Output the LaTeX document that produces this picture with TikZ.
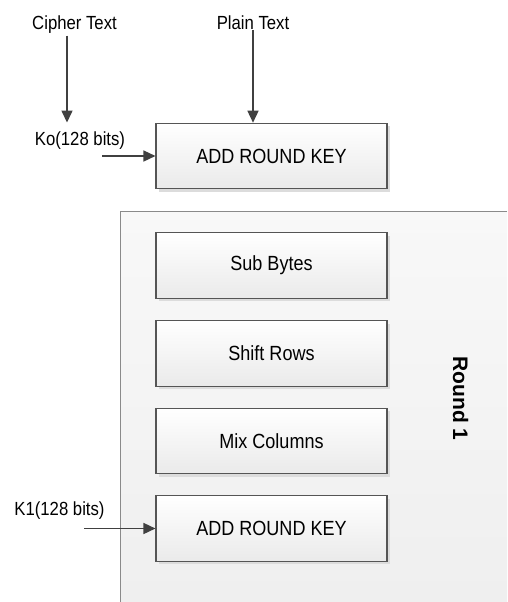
\documentclass[tikz,border=0pt]{standalone}
\usepackage{fontspec}
\setmainfont{Liberation Sans}[FakeStretch=0.88]
\newfontfamily\roundfont{Liberation Sans}
\usetikzlibrary{arrows.meta}
\definecolor{edgegray}{HTML}{555555}
\definecolor{arrowgray}{HTML}{404040}
\definecolor{framegray}{HTML}{8A8A8A}
\definecolor{shadowgray}{HTML}{DCDCDC}
\definecolor{roundtop}{HTML}{F8F8F8}
\definecolor{roundbot}{HTML}{EFEFEF}
\definecolor{boxbot}{HTML}{EAEAEA}
\tikzset{
  stagebox/.style={draw=edgegray, line width=1.1pt,
    minimum width=231pt, minimum height=65.5pt, inner sep=0pt,
    top color=white, bottom color=boxbot,
    preaction={fill=shadowgray, transform canvas={xshift=3pt,yshift=-3pt}},
    font=\fontsize{20.5}{24}\selectfont},
  labeltext/.style={inner sep=0pt, anchor=base, font=\fontsize{19}{22}\selectfont},
  flow/.style={draw=arrowgray, line width=1.5pt,
    -{Triangle[length=12pt,width=11pt]}}
}
\begin{document}
\begin{tikzpicture}[x=1pt,y=-1pt]
  \useasboundingbox[fill=white] (0,0) rectangle (507,602);

  % round container, open to the right and below
  \fill[top color=roundtop, bottom color=roundbot] (120.5,211) rectangle (507,602);
  \draw[framegray, line width=1pt] (507,211) -- (120.5,211) -- (120.5,602);

  % inputs
  \node[labeltext] (cipher) at (74.5,29.5) {Cipher Text};
  \node[labeltext] (plain) at (253,30) {Plain Text};
  \node[labeltext] (k0) at (80,145.5) {Ko(128 bits)};
  \node[labeltext] (k1) at (59.5,515.5) {K1(128 bits)};

  % stages
  \node[stagebox] (ark0) at (271.5,156) {ADD ROUND KEY};
  \node[stagebox] (sub) at (271.5,265.5) {Sub Bytes};
  \node[stagebox] (shift) at (271.5,353.3) {Shift Rows};
  \node[stagebox] (mix) at (271.5,441) {Mix Columns};
  \node[stagebox] (ark1) at (271.5,528.5) {ADD ROUND KEY};

  \node[rotate=-90, inner sep=0pt, font=\roundfont\bfseries\fontsize{21}{24}\selectfont]
    (round) at (460.5,398.5) {Round 1};

  % key inputs enter from the left
  \coordinate (k0in) at (102,156);
  \coordinate (k1in) at (84,528.5);

  % connectors
  \draw[flow] ([xshift=-7.5pt,yshift=-2pt]cipher.south)
    -- ([xshift=-7.5pt,yshift=9pt]cipher.south |- k0.north);
  \draw[flow] (plain.south) -- (plain.south |- ark0.north);
  \draw[flow] (k0in) -- (ark0.west);
  \draw[flow] (k1in) -- (ark1.west);
\end{tikzpicture}
\end{document}
